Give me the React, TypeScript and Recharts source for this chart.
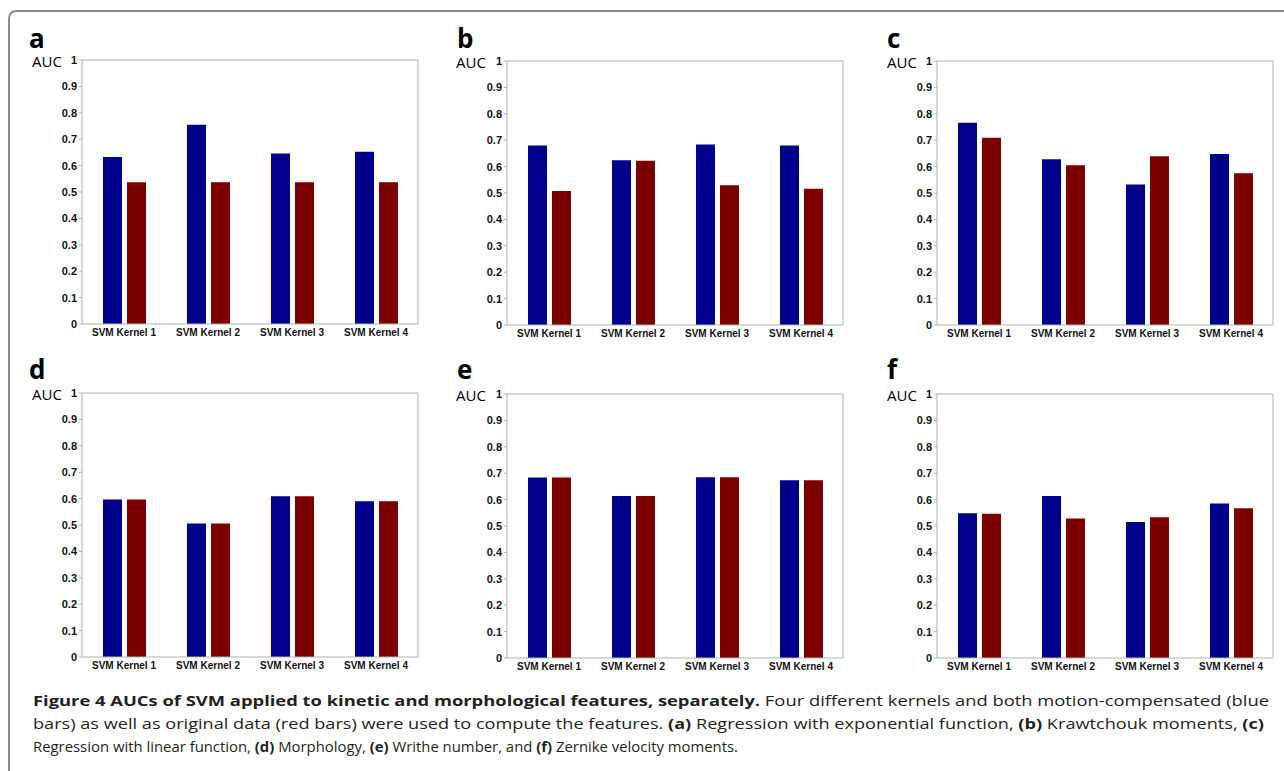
import { BarChart, Bar, XAxis, YAxis } from 'recharts';

const categories = ['SVM Kernel 1', 'SVM Kernel 2', 'SVM Kernel 3', 'SVM Kernel 4'];
const yTicks = [0, 0.1, 0.2, 0.3, 0.4, 0.5, 0.6, 0.7, 0.8, 0.9, 1];

// blue = motion-compensated, red = original data
const blueA = [0.633, 0.755, 0.646, 0.652];
const redA = [0.537, 0.537, 0.537, 0.537];
const blueB = [0.68, 0.624, 0.684, 0.68];
const redB = [0.508, 0.622, 0.529, 0.516];
const blueC = [0.766, 0.628, 0.532, 0.648];
const redC = [0.709, 0.605, 0.639, 0.575];
const blueD = [0.597, 0.506, 0.609, 0.59];
const redD = [0.597, 0.506, 0.609, 0.59];
const blueE = [0.684, 0.614, 0.685, 0.673];
const redE = [0.684, 0.614, 0.685, 0.673];
const blueF = [0.548, 0.614, 0.515, 0.585];
const redF = [0.546, 0.528, 0.533, 0.567];

const BLUE = '#00008c';
const RED = '#7d0000';
const FRAME = '#aab5aa';
const PLOT_W = 335;
const PLOT_H = 263;

const panels = [
  { letter: 'a', blue: blueA, red: redA, left: 82, top: 61, lx: 29, ly: 48, ax: 32, ay: 67 },
  { letter: 'b', blue: blueB, red: redB, left: 507, top: 62, lx: 457, ly: 48, ax: 456, ay: 68 },
  { letter: 'c', blue: blueC, red: redC, left: 937, top: 62, lx: 887, ly: 48, ax: 887, ay: 68 },
  { letter: 'd', blue: blueD, red: redD, left: 82, top: 394, lx: 29, ly: 379, ax: 32, ay: 400 },
  { letter: 'e', blue: blueE, red: redE, left: 507, top: 395, lx: 457, ly: 379, ax: 456, ay: 401 },
  { letter: 'f', blue: blueF, red: redF, left: 937, top: 395, lx: 887, ly: 379, ax: 887, ay: 401 },
];

const xFont = { fontFamily: 'Liberation Sans, Arial, sans-serif', fontSize: 10, fontWeight: 700, fill: '#111' };
const yFont = { fontFamily: 'Liberation Sans, Arial, sans-serif', fontSize: 11, fontWeight: 700, fill: '#111' };

function Panel({ p }: { p: (typeof panels)[number] }) {
  const data = categories.map((name, i) => ({ name, blue: p.blue[i], red: p.red[i] }));
  return (
    <div style={{ position: 'absolute', left: p.left - 40, top: p.top - 10 }}>
      <BarChart
        width={PLOT_W + 50}
        height={PLOT_H + 35}
        data={data}
        margin={{ top: 9, right: 9, bottom: 0, left: 0 }}
        barGap={5}
      >
        <XAxis
          dataKey="name"
          interval={0}
          tickLine={false}
          tickSize={3}
          tickMargin={2}
          height={25}
          axisLine={{ stroke: FRAME }}
          tick={xFont}
        />
        <XAxis
          xAxisId="top"
          dataKey="name"
          orientation="top"
          mirror
          height={1}
          tick={false}
          tickSize={3}
          tickLine={{ stroke: FRAME }}
          axisLine={{ stroke: FRAME }}
        />
        <YAxis
          domain={[0, 1]}
          ticks={yTicks}
          interval={0}
          width={40}
          tickSize={3}
          tickMargin={2}
          tickLine={{ stroke: FRAME }}
          axisLine={{ stroke: FRAME }}
          tick={yFont}
        />
        <YAxis
          yAxisId="right"
          orientation="right"
          mirror
          width={1}
          domain={[0, 1]}
          ticks={yTicks}
          interval={0}
          tick={false}
          tickSize={3}
          tickLine={{ stroke: FRAME }}
          axisLine={{ stroke: FRAME }}
        />
        <Bar dataKey="blue" fill={BLUE} barSize={19} isAnimationActive={false} />
        <Bar dataKey="red" fill={RED} barSize={19} isAnimationActive={false} />
      </BarChart>
    </div>
  );
}

export default function App() {
  return (
    <div style={{ position: 'fixed', left: 0, top: 0, width: 1284, height: 771, background: '#fff', overflow: 'hidden' }}>
      <svg width={1284} height={771} style={{ position: 'absolute', left: 0, top: 0 }}>
        <path d="M 9 771 L 9 19 Q 9 11 17 11 L 1284 11" fill="none" stroke="#8a8a8a" strokeWidth={2} />
        {panels.map((p) => (
          <g key={p.letter} fontFamily="Open Sans, sans-serif" fill="#000">
            <text x={p.lx} y={p.ly} fontSize={26} fontWeight={700}>{p.letter}</text>
            <text x={p.ax} y={p.ay} fontSize={15}>AUC</text>
          </g>
        ))}
        <g fontFamily="Open Sans, sans-serif" fontSize={14} fill="#231f20">
          <text x={33} y={706} textLength={1236} lengthAdjust="spacingAndGlyphs">
            <tspan fontWeight={700}>Figure 4 AUCs of SVM applied to kinetic and morphological features, separately.</tspan>
            <tspan> Four different kernels and both motion-compensated (blue</tspan>
          </text>
          <text x={33} y={729} textLength={1231} lengthAdjust="spacingAndGlyphs">
            <tspan>bars) as well as original data (red bars) were used to compute the features. </tspan>
            <tspan fontWeight={700}>(a)</tspan>
            <tspan> Regression with exponential function, </tspan>
            <tspan fontWeight={700}>(b)</tspan>
            <tspan> Krawtchouk moments, </tspan>
            <tspan fontWeight={700}>(c)</tspan>
          </text>
          <text x={33} y={752} textLength={705} lengthAdjust="spacingAndGlyphs">
            <tspan>Regression with linear function, </tspan>
            <tspan fontWeight={700}>(d)</tspan>
            <tspan> Morphology, </tspan>
            <tspan fontWeight={700}>(e)</tspan>
            <tspan> Writhe number, and </tspan>
            <tspan fontWeight={700}>(f)</tspan>
            <tspan> Zernike velocity moments.</tspan>
          </text>
        </g>
      </svg>
      {panels.map((p) => (
        <Panel key={p.letter} p={p} />
      ))}
    </div>
  );
}
